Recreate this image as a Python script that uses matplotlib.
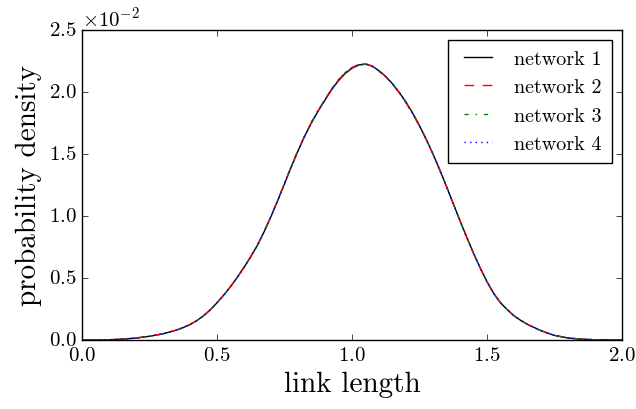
import matplotlib
matplotlib.use("Agg")
import matplotlib.pyplot as plt
import numpy as np

plt.style.use('classic')
plt.rcParams['font.family'] = 'serif'
plt.rcParams['font.serif'] = ['cmr10']
plt.rcParams['mathtext.fontset'] = 'cm'
plt.rcParams['axes.unicode_minus'] = False
plt.rcParams['axes.formatter.use_mathtext'] = True

link_length = [0.0, 0.05, 0.1, 0.15, 0.2, 0.25, 0.3, 0.35, 0.375,
               0.4, 0.425, 0.45, 0.475, 0.5, 0.525, 0.55, 0.575, 0.6, 0.625,
               0.65, 0.675, 0.7, 0.725, 0.75, 0.775, 0.8, 0.825, 0.85, 0.875,
               0.9, 0.925, 0.95, 0.975, 1.0, 1.025, 1.05, 1.075, 1.1, 1.125,
               1.15, 1.175, 1.2, 1.225, 1.25, 1.275, 1.3, 1.325, 1.35, 1.375,
               1.4, 1.425, 1.45, 1.475, 1.5, 1.525, 1.55, 1.575, 1.6, 1.625,
               1.65, 1.7, 1.75, 1.8, 1.85, 1.9, 1.95, 2.0]

# densities in units of 1e-2
network_1 = [0.0, 0.0, 0.002, 0.007, 0.016, 0.030, 0.050, 0.080, 0.100,
             0.125, 0.156, 0.195, 0.243, 0.300, 0.362, 0.430, 0.505, 0.585, 0.672,
             0.765, 0.875, 0.995, 1.125, 1.260, 1.395, 1.525, 1.645, 1.752, 1.848,
             1.935, 2.020, 2.092, 2.150, 2.192, 2.218, 2.226, 2.208, 2.172, 2.125,
             2.066, 1.997, 1.918, 1.828, 1.728, 1.618, 1.500, 1.372, 1.238, 1.100,
             0.962, 0.828, 0.700, 0.580, 0.470, 0.375, 0.300, 0.245, 0.195, 0.158,
             0.126, 0.075, 0.037, 0.016, 0.007, 0.002, 0.0005, 0.0]
network_2 = [0.0, 0.0, 0.002, 0.007, 0.016, 0.030, 0.050, 0.080, 0.100,
             0.125, 0.156, 0.195, 0.243, 0.301, 0.363, 0.431, 0.506, 0.586, 0.674,
             0.767, 0.877, 0.998, 1.128, 1.263, 1.398, 1.528, 1.648, 1.756, 1.852,
             1.940, 2.025, 2.098, 2.156, 2.198, 2.222, 2.228, 2.210, 2.172, 2.124,
             2.063, 1.993, 1.913, 1.824, 1.725, 1.615, 1.498, 1.370, 1.236, 1.099,
             0.962, 0.828, 0.700, 0.580, 0.470, 0.375, 0.300, 0.245, 0.195, 0.158,
             0.126, 0.075, 0.037, 0.016, 0.007, 0.002, 0.0005, 0.0]
network_3 = [0.0, 0.0, 0.002, 0.007, 0.016, 0.030, 0.050, 0.080, 0.100,
             0.125, 0.156, 0.195, 0.243, 0.300, 0.362, 0.430, 0.505, 0.585, 0.673,
             0.766, 0.877, 0.998, 1.129, 1.265, 1.400, 1.530, 1.650, 1.757, 1.854,
             1.942, 2.028, 2.100, 2.157, 2.196, 2.219, 2.223, 2.204, 2.167, 2.120,
             2.063, 1.996, 1.918, 1.829, 1.730, 1.620, 1.501, 1.372, 1.238, 1.100,
             0.962, 0.828, 0.700, 0.580, 0.470, 0.375, 0.300, 0.245, 0.195, 0.158,
             0.126, 0.075, 0.037, 0.016, 0.007, 0.002, 0.0005, 0.0]
network_4 = [0.0, 0.0, 0.002, 0.007, 0.016, 0.030, 0.050, 0.080, 0.100,
             0.125, 0.156, 0.195, 0.243, 0.300, 0.362, 0.430, 0.505, 0.585, 0.672,
             0.765, 0.876, 0.996, 1.126, 1.261, 1.396, 1.526, 1.646, 1.754, 1.850,
             1.937, 2.022, 2.094, 2.152, 2.193, 2.218, 2.225, 2.207, 2.170, 2.123,
             2.065, 1.996, 1.917, 1.827, 1.727, 1.617, 1.500, 1.372, 1.238, 1.100,
             0.962, 0.828, 0.700, 0.580, 0.470, 0.375, 0.300, 0.245, 0.195, 0.158,
             0.126, 0.075, 0.037, 0.016, 0.007, 0.002, 0.0005, 0.0]

labels = ['network 1', 'network 2', 'network 3', 'network 4']
series = [network_1, network_2, network_3, network_4]
colors = ['k', 'r', 'g', 'b']
styles = ['-', (0, (7, 6)), (0, (3, 5, 1, 5)), (0, (1, 3))]

fig = plt.figure(figsize=(6.36, 4.10), dpi=100, facecolor='white')
ax = fig.add_axes([82/636, 69/410, 540/636, 310/410])
ax.set_facecolor('white')

x = np.array(link_length)
for s, c, ls, lab in zip(series, colors, styles, labels):
    ax.plot(x, np.array(s) * 1e-2, color=c, linestyle=ls, linewidth=1.0, label=lab)

ax.set_xlim(0.0, 2.0)
ax.set_ylim(0.0, 0.025)
ax.set_xticks([0.0, 0.5, 1.0, 1.5, 2.0])
ax.set_yticks([0.0, 0.005, 0.01, 0.015, 0.02, 0.025])
ax.ticklabel_format(style='sci', axis='y', scilimits=(0, 0), useMathText=True)
ax.tick_params(labelsize=15, direction='in', top=True, right=True)
ax.yaxis.get_offset_text().set_fontsize(15)
ax.set_xlabel('link length', fontsize=21)
ax.set_ylabel('probability density', fontsize=21)
leg = ax.legend(loc='upper right', fontsize=14.5, frameon=True, fancybox=False,
                handlelength=2.0, handletextpad=0.8, borderpad=0.5,
                labelspacing=0.5, borderaxespad=0.5)
leg.get_frame().set_edgecolor('black')

fig.savefig('out.png', dpi=100, facecolor='white')
